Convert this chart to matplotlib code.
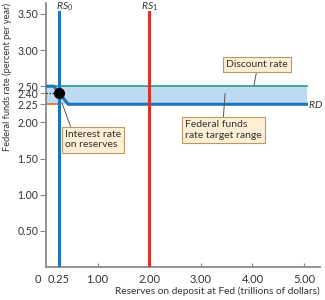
import matplotlib
matplotlib.use("Agg")
import matplotlib.pyplot as plt

# data
rd_x = [0.0, 0.15, 0.43, 5.05]
rd_y = [2.50, 2.50, 2.25, 2.25]
discount_rate = 2.50
ior_rate = 2.25
band_lo, band_hi = 2.25, 2.50
band_end = 5.05
rs0, rs1 = 0.25, 2.00
rs_top = 3.52
eq_x, eq_y = 0.25, 2.40

xticks = [0.25, 1.0, 2.0, 3.0, 4.0, 5.0]
xtick_labels = ["0.25", "1.00", "2.00", "3.00", "4.00", "5.00"]
yticks = [0.5, 1.0, 1.5, 2.0, 2.25, 2.40, 2.5, 3.0, 3.5]
ytick_labels = ["0.50", "1.00", "1.50", "2.00", "2.25", "2.40", "2.50", "3.00", "3.50"]

BLUE = "#1f74bd"
RED = "#d8342e"
GREEN = "#3aa38f"
ORANGE = "#e07a35"
FILL = "#bcdaf2"
AXIS = "#8a8a8a"
TXT = "#333333"
BOX = dict(boxstyle="square,pad=0.3", fc="#fcefd3", ec="#b8996a", lw=0.8)

plt.rcParams["font.family"] = ["Lato", "DejaVu Sans"]
plt.rcParams["mathtext.fontset"] = "custom"
plt.rcParams["mathtext.it"] = "Lato:italic"
plt.rcParams["mathtext.rm"] = "Lato"

fig = plt.figure(figsize=(3.25, 3.0), dpi=100)
ax = fig.add_axes([46 / 325, 33 / 300, 274 / 325, 264 / 300])
ax.set_xlim(0, 5.31)
ax.set_ylim(0, 3.65)

ax.fill_between([0, band_end], band_lo, band_hi, color=FILL, lw=0, zorder=1)
ax.plot([0, band_end], [discount_rate] * 2, color=GREEN, lw=1.3, zorder=2)
ax.plot([0, rs0], [ior_rate] * 2, color=ORANGE, lw=1.3, zorder=2)
ax.plot(rd_x, rd_y, color=BLUE, lw=2.2, zorder=3, solid_joinstyle="round")
ax.plot([0, eq_x], [eq_y] * 2, color="#222222", lw=0.9, ls=(0, (1, 1.5)), zorder=3)
ax.plot([rs0, rs0], [0, rs_top], color=BLUE, lw=2.2, zorder=4)
ax.plot([rs1, rs1], [0, rs_top], color=RED, lw=2.2, zorder=4)
ax.plot([eq_x], [eq_y], "o", color="black", ms=7, zorder=5)

ax.text(rs0 + 0.12, 3.555, "$RS_0$", fontsize=7.5, color=TXT, ha="center",
        va="baseline")
ax.text(rs1, 3.555, "$RS_1$", fontsize=7.5, color=TXT, ha="center", va="baseline")
ax.text(band_end + 0.03, 2.25, "$RD$", fontsize=7.5, color=TXT, ha="left", va="center")

ax.annotate("Discount rate", xy=(4.03, 2.51), xytext=(4.09, 2.80),
            fontsize=7.5, color=TXT, ha="center", va="center", bbox=BOX,
            arrowprops=dict(arrowstyle="-", color="#555555", lw=0.7,
                            shrinkA=0, shrinkB=0, relpos=(0.5, 0)))
ax.annotate("Federal funds\nrate target range", xy=(3.47, 2.40), xytext=(2.69, 1.895),
            fontsize=7.5, color=TXT, ha="left", va="center", bbox=BOX,
            linespacing=1.2,
            arrowprops=dict(arrowstyle="-", color="#555555", lw=0.7,
                            shrinkA=0, shrinkB=0, relpos=(0.5, 1)))
ax.annotate("Interest rate\non reserves", xy=(0.31, 2.27), xytext=(0.37, 1.76),
            fontsize=7.5, color=TXT, ha="left", va="center", bbox=BOX,
            linespacing=1.2,
            arrowprops=dict(arrowstyle="-", color="#555555", lw=0.7,
                            shrinkA=0, shrinkB=0, relpos=(0.12, 1)))

for side in ("top", "right"):
    ax.spines[side].set_visible(False)
for side in ("left", "bottom"):
    ax.spines[side].set_color(AXIS)
    ax.spines[side].set_linewidth(1.3)

ax.set_xticks(xticks, xtick_labels)
ax.set_yticks(yticks, ytick_labels)
ax.tick_params(axis="x", direction="in", length=3, color=AXIS, labelsize=8,
               labelcolor=TXT, pad=5)
ax.tick_params(axis="y", direction="out", length=4, color=AXIS, labelsize=7.6,
               labelcolor=TXT, pad=1.5)
ax.annotate("0", xy=(0, 0), xytext=(-6, -5), textcoords="offset points",
            fontsize=8, color=TXT, ha="center", va="top")

ax.set_xlabel("Reserves on deposit at Fed (trillions of dollars)", fontsize=7.3,
              color=TXT, loc="right", labelpad=1)
ax.set_ylabel("Federal funds rate (percent per year)", fontsize=6.7, color=TXT,
              loc="top", labelpad=4)

fig.savefig("out.png", dpi=100)
